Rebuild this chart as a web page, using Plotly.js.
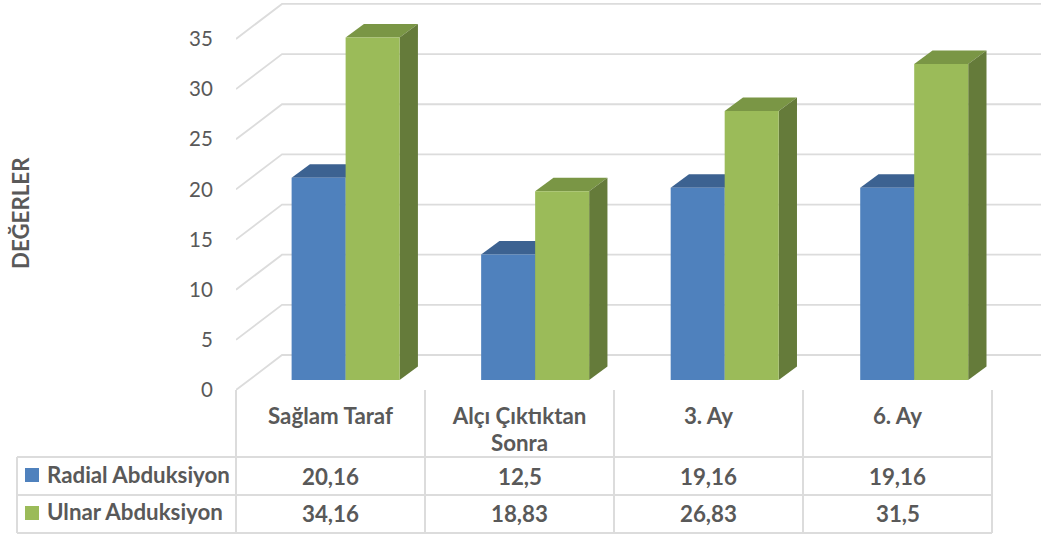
<!DOCTYPE html>
<html><head><meta charset="utf-8">
<script src="https://cdn.plot.ly/plotly-3.0.1.min.js"></script>
<style>html,body{margin:0;padding:0;background:#fff}</style></head>
<body><div id="chart" style="width:1042px;height:534px"></div>
<script>
const categories = ["Sağlam Taraf", "Alçı Çıktıktan", "3. Ay", "6. Ay"];
const categoryExtra = ["", "Sonra", "", ""];
const radialName = "Radial Abduksiyon";
const ulnarName = "Ulnar Abduksiyon";
const yTitle = "DEĞERLER";
const radial = [20.16, 12.5, 19.16, 19.16];
const ulnar = [34.16, 18.83, 26.83, 31.5];
const yTicks = [0, 5, 10, 15, 20, 25, 30, 35];

const W = 1042, H = 534, L = 236, B = 390;
const PXX = 189, PXY = 10.03;
const FONT = "Lato, Carlito, Calibri, sans-serif";
const FS = 22.3;
const TEXT = "#595959", GRID = "#DCDCDC";
const colors = {
  radial: {front: "#4F81BD", top: "#3C6291", side: "#3A5F8C"},
  ulnar: {front: "#9BBB59", top: "#7A9645", side: "#657B3A"}
};
const xPos = i => i + 0.5 + 0.08 + i * 0.0028;
const barW = 54 / PXX, floorBase = 10 / PXY;
const depthX = 18.3 / PXX, depthY = 13.5 / PXY;
const wallX = 46 / PXX, wallY = 35 / PXY, endX = (1041 - L) / PXX;

const traces = [];
yTicks.forEach(v => traces.push({
  type: "scatter", mode: "lines", hoverinfo: "skip", showlegend: false,
  x: [0, wallX, endX], y: [v, v + wallY, v + wallY],
  line: {color: GRID, width: 1.8}
}));
function face(xs, ys, color) {
  traces.push({type: "scatter", mode: "lines", fill: "toself", fillcolor: color,
    hoverinfo: "skip", showlegend: false, x: xs, y: ys, line: {width: 0, color: color}});
}
function faces(vals, off, c) {
  vals.forEach((v, i) => {
    const x0 = xPos(i) + off, x1 = x0 + barW, b = floorBase, t = b + v;
    face([x0, x1, x1 + depthX, x0 + depthX, x0], [t, t, t + depthY, t + depthY, t], c.top);
    face([x1, x1, x1 + depthX, x1 + depthX, x1], [b, t, t + depthY, b + depthY, b], c.side);
  });
}
faces(radial, -barW, colors.radial);
faces(ulnar, 0, colors.ulnar);
function bars(name, vals, off, color) {
  traces.push({type: "bar", name: name, yaxis: "y2", showlegend: false,
    x: vals.map((_, i) => xPos(i)), y: vals, base: vals.map(() => floorBase),
    offset: off, width: barW, marker: {color: color, line: {width: 0}}});
}
bars(radialName, radial, -barW, colors.radial.front);
bars(ulnarName, ulnar, 0, colors.ulnar.front);

const px = x => (x - L) / (W - L), py = y => (B - y) / B;
const lineShape = (x0, y0, x1, y1) => ({type: "line", xref: "paper", yref: "paper",
  x0: px(x0), x1: px(x1), y0: py(y0), y1: py(y1), line: {color: GRID, width: 2}});
const rowY = [457, 495, 533], colX = [236, 425, 614, 803, 992];
const shapes = [];
colX.forEach(x => shapes.push(lineShape(x, B, x, 533)));
rowY.forEach(y => shapes.push(lineShape(17, y, 992, y)));
shapes.push(lineShape(17, 457, 17, 533));
[[colors.radial.front, 468], [colors.ulnar.front, 506]].forEach(([c, y]) => shapes.push({
  type: "rect", xref: "paper", yref: "paper", x0: px(25), x1: px(39), y0: py(y), y1: py(y + 14),
  fillcolor: c, line: {width: 0}}));

const annotations = [];
const note = (x, xref, y, text, anchor) => annotations.push({x: x, xref: xref, y: py(y), yref: "paper",
  text: "<b>" + text + "</b>", showarrow: false, xanchor: anchor, yanchor: "middle", font: {family: FONT, size: FS, color: TEXT}});
categoryExtra.forEach((t, i) => { if (t) note(i + 0.5, "x", 442, t, "center"); });
note(px(45), "paper", 474, radialName, "left");
note(px(45), "paper", 511, ulnarName, "left");
[[radial, 476], [ulnar, 513]].forEach(([vals, y]) => vals.forEach((v, i) =>
  note(i + 0.5, "x", y, String(v).replace(".", ","), "center")));
annotations.push({x: px(20), xref: "paper", y: py(213), yref: "paper", text: "<b>" + yTitle + "</b>",
  textangle: -90, showarrow: false, xanchor: "center", yanchor: "middle", font: {family: FONT, size: FS, color: TEXT}});

const layout = {
  width: W, height: H, margin: {l: L, r: 0, t: 0, b: H - B, pad: 0},
  paper_bgcolor: "#fff", plot_bgcolor: "rgba(0,0,0,0)", showlegend: false, barmode: "overlay",
  xaxis: {range: [0, (W - L) / PXX], showgrid: false, zeroline: false, showline: false,
    tickmode: "array", tickvals: categories.map((_, i) => i + 0.5),
    ticktext: categories.map(c => "<b>" + c + "</b>"),
    ticks: "outside", ticklen: 6, tickcolor: "rgba(0,0,0,0)",
    tickfont: {family: FONT, size: FS, color: TEXT}},
  yaxis: {range: [0, B / PXY], showgrid: false, zeroline: false, showline: false,
    tickmode: "array", tickvals: yTicks, ticks: "outside", ticklen: 18, tickcolor: "rgba(0,0,0,0)",
    tickfont: {family: FONT, size: 20.5, color: TEXT}},
  yaxis2: {overlaying: "y", range: [0, B / PXY], visible: false},
  shapes: shapes, annotations: annotations
};
Plotly.newPlot("chart", traces, layout, {displayModeBar: false, staticPlot: true});
</script></body></html>
